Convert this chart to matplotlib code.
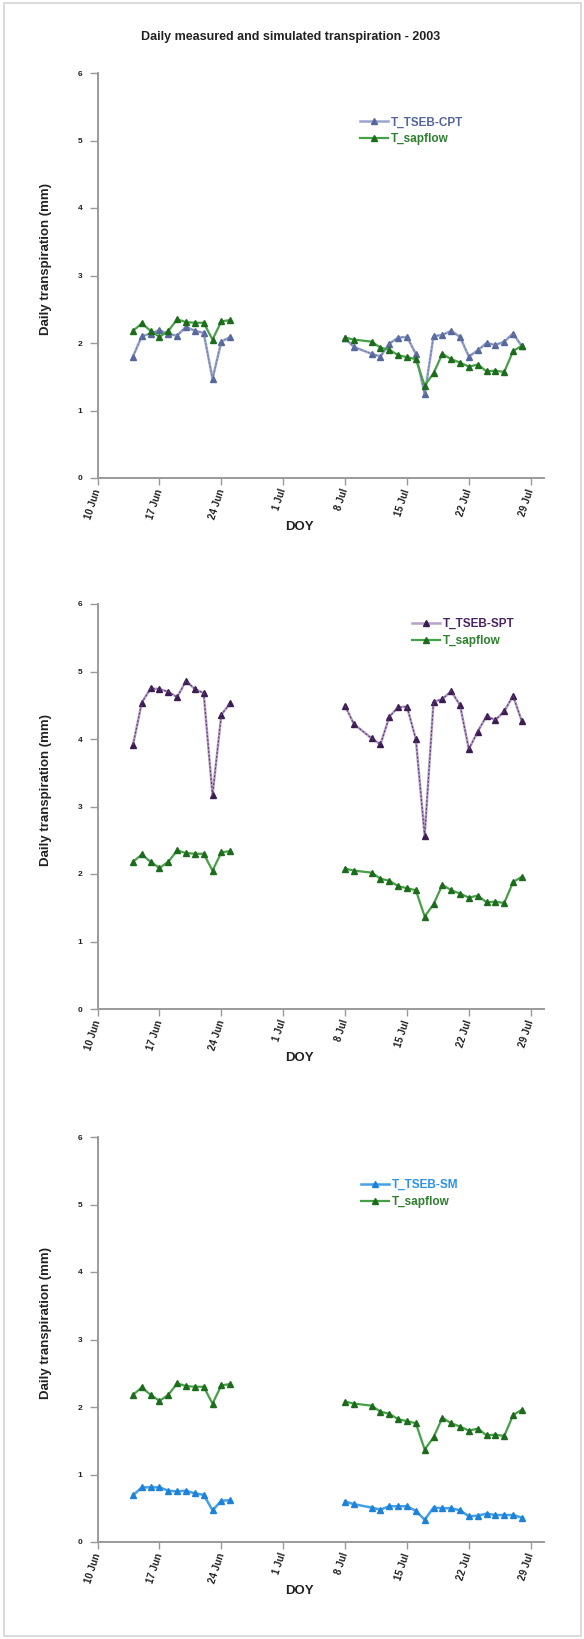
import matplotlib
matplotlib.use('Agg')
import matplotlib.pyplot as plt
import matplotlib.dates as mdates
import pandas as pd
from matplotlib.patches import Rectangle

plt.rcParams['font.family'] = ['Liberation Sans', 'DejaVu Sans']

title = "Daily measured and simulated transpiration - 2003"
ylabel = "Daily transpiration (mm)"
xlabel = "DOY"

dates_june = ['2003-06-14', '2003-06-15', '2003-06-16', '2003-06-17', '2003-06-18', '2003-06-19',
              '2003-06-20', '2003-06-21', '2003-06-22', '2003-06-23', '2003-06-24', '2003-06-25']
dates_july = ['2003-07-08', '2003-07-09', '2003-07-11', '2003-07-12', '2003-07-13', '2003-07-14',
              '2003-07-15', '2003-07-16', '2003-07-17', '2003-07-18', '2003-07-19', '2003-07-20',
              '2003-07-21', '2003-07-22', '2003-07-23', '2003-07-24', '2003-07-25', '2003-07-26',
              '2003-07-27', '2003-07-28']

sapflow_june = [2.18, 2.29, 2.18, 2.09, 2.18, 2.35, 2.31, 2.30, 2.30, 2.05, 2.32, 2.34]
sapflow_july = [2.08, 2.05, 2.02, 1.93, 1.90, 1.82, 1.79, 1.76, 1.37, 1.55, 1.84, 1.76,
                1.71, 1.65, 1.68, 1.58, 1.59, 1.57, 1.88, 1.96]
cpt_june = [1.80, 2.10, 2.14, 2.19, 2.13, 2.11, 2.24, 2.18, 2.15, 1.47, 2.02, 2.09]
cpt_july = [2.07, 1.94, 1.84, 1.80, 1.99, 2.08, 2.09, 1.84, 1.24, 2.10, 2.12, 2.18,
            2.09, 1.80, 1.89, 2.00, 1.97, 2.02, 2.14, 1.95]
spt_june = [3.91, 4.54, 4.75, 4.74, 4.70, 4.62, 4.86, 4.74, 4.68, 3.17, 4.36, 4.53]
spt_july = [4.49, 4.22, 4.01, 3.92, 4.33, 4.47, 4.48, 4.00, 2.57, 4.55, 4.59, 4.71,
            4.50, 3.85, 4.11, 4.34, 4.28, 4.41, 4.64, 4.26]
sm_june = [0.69, 0.81, 0.81, 0.81, 0.76, 0.75, 0.76, 0.72, 0.70, 0.47, 0.61, 0.62]
sm_july = [0.60, 0.56, 0.51, 0.48, 0.53, 0.53, 0.53, 0.46, 0.33, 0.51, 0.50, 0.50,
           0.47, 0.38, 0.39, 0.42, 0.40, 0.40, 0.40, 0.36]

model_names = ['T_TSEB-CPT', 'T_TSEB-SPT', 'T_TSEB-SM']
sapflow_name = 'T_sapflow'
tick_dates = ['2003-06-10', '2003-06-17', '2003-06-24', '2003-07-01', '2003-07-08',
              '2003-07-15', '2003-07-22', '2003-07-29']
tick_labels = ['10 Jun', '17 Jun', '24 Jun', '1 Jul', '8 Jul', '15 Jul', '22 Jul', '29 Jul']
y_ticks = [0, 1, 2, 3, 4, 5, 6]

d_june = pd.to_datetime(dates_june)
d_july = pd.to_datetime(dates_july)
t_dates = pd.to_datetime(tick_dates)

# style per panel: (line colour, marker colour, text colour, overlay dash colour)
styles = [
    ('#9BA6CC', '#56679C', '#55659A', '#6E7DAE'),
    ('#B9A2C8', '#3B1C52', '#4A2460', '#5E3C78'),
    ('#46A0E6', '#1E82D8', '#2D92E6', None),
]
sap_style = ('#47A047', '#1D6B1D', '#2E7F2E')

models = [(cpt_june, cpt_july), (spt_june, spt_july), (sm_june, sm_july)]

fig = plt.figure(figsize=(5.84, 16.39), dpi=100)

# light grey outer frame
fig.patches.append(Rectangle((4 / 584, 3 / 1639), 577 / 584, 1633 / 1639,
                             transform=fig.transFigure, fill=False,
                             edgecolor='#d4d4d4', linewidth=1.2))

fig.text(0.497, 0.9775, title, ha='center', va='center', fontsize=9, fontweight='bold',
         color='#222222')

ax_left = 97.6 / 584
ax_w = 446.4 / 584
ax_h = 405 / 1639
bottoms = [(1639 - 478) / 1639, (1639 - 1009) / 1639, (1639 - 1542) / 1639]
legend_anchors = [(0.588, 0.893), (0.704, 0.966), (0.590, 0.896)]

x_start = pd.Timestamp('2003-06-10')
x_end = pd.Timestamp('2003-07-30 12:00')

for i in range(3):
    ax = fig.add_axes([ax_left, bottoms[i], ax_w, ax_h])
    lc, mc, tc, dc = styles[i]
    mj, ml = models[i]
    h1 = None
    for d, v in ((d_june, mj), (d_july, ml)):
        h1, = ax.plot(d, v, color=lc, lw=1.8, marker='^', markersize=4.4,
                      markerfacecolor=mc, markeredgecolor=mc, zorder=3)
        if dc is not None:
            ax.plot(d, v, color=dc, lw=0.8, ls=(0, (2, 1.5)), zorder=3.5)
    h2 = None
    for d, v in ((d_june, sapflow_june), (d_july, sapflow_july)):
        h2, = ax.plot(d, v, color=sap_style[0], lw=1.6, marker='^', markersize=4.4,
                      markerfacecolor=sap_style[1], markeredgecolor=sap_style[1], zorder=4)

    ax.set_xlim(x_start, x_end)
    ax.set_ylim(0, 6)
    ax.set_yticks(y_ticks)
    ax.set_yticklabels([str(t) for t in y_ticks])
    ax.set_xticks(t_dates)
    ax.set_xticklabels(tick_labels)
    for sp in ('top', 'right'):
        ax.spines[sp].set_visible(False)
    for sp in ('left', 'bottom'):
        ax.spines[sp].set_color('#9a9a9a')
        ax.spines[sp].set_linewidth(1.4)
    ax.tick_params(axis='y', direction='out', length=6, width=1, color='#9a9a9a',
                   labelsize=6, pad=5, labelcolor='#222222')
    ax.tick_params(axis='x', direction='out', length=5, width=1, color='#9a9a9a',
                   labelsize=7, pad=3, labelcolor='#222222')
    for lab in ax.get_yticklabels():
        lab.set_fontweight('bold')
    for lab in ax.get_xticklabels():
        lab.set_rotation(72)
        lab.set_rotation_mode('anchor')
        lab.set_ha('right')
        lab.set_va('center')
        lab.set_fontweight('bold')

    ax.set_ylabel(ylabel, fontsize=9.5, fontweight='bold', color='#222222')
    ax.yaxis.set_label_coords(-0.102, 0.54)
    ax.set_xlabel(xlabel, fontsize=9.5, fontweight='bold', color='#222222')
    ax.xaxis.set_label_coords(0.453, -0.121)
    ax.xaxis.label.set_va('center')

    leg = ax.legend([h1, h2], [model_names[i], sapflow_name], loc='upper left',
                    bbox_to_anchor=legend_anchors[i], frameon=False,
                    handlelength=2.4, handletextpad=0.2, labelspacing=0.42,
                    borderpad=0, borderaxespad=0, prop={'weight': 'bold', 'size': 8.5})
    for txt, col in zip(leg.get_texts(), [tc, sap_style[2]]):
        txt.set_color(col)

fig.savefig('out.png', dpi=100)
